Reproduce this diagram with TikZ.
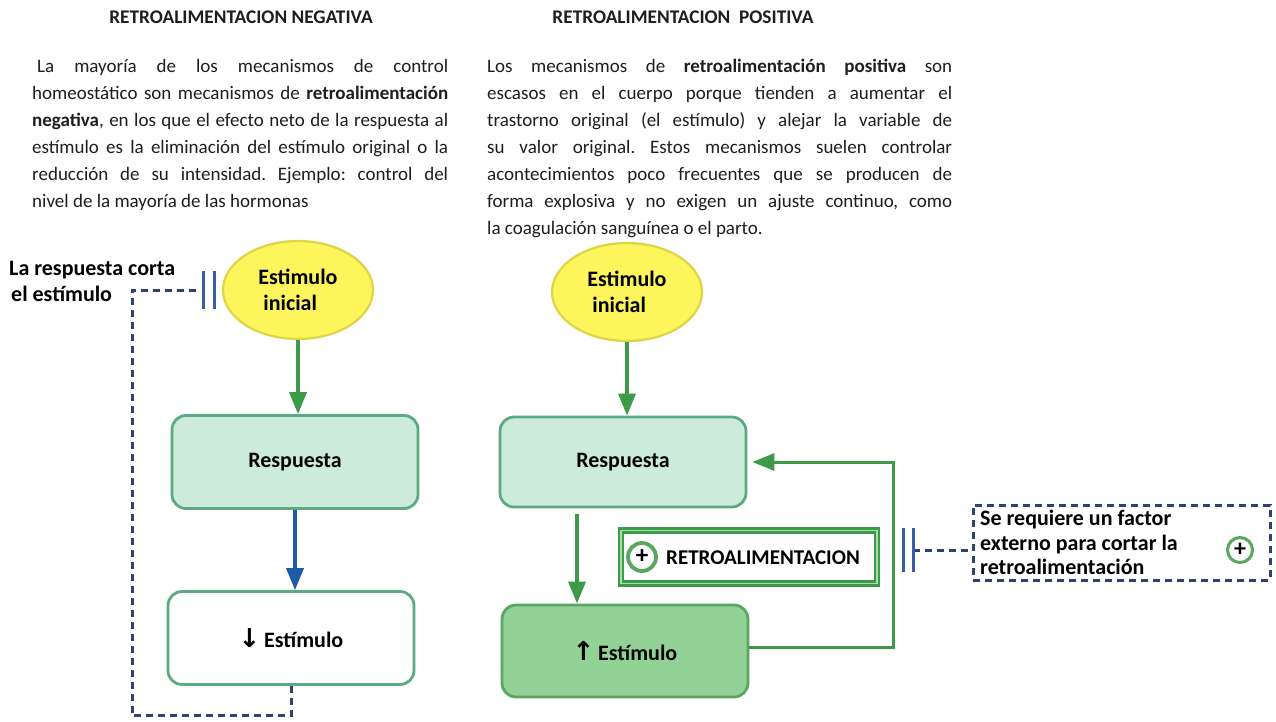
\documentclass[tikz,border=0pt]{standalone}
\usepackage{fontspec}
\setmainfont{Carlito}
\newfontfamily\flechafont{DejaVu Sans}
\usetikzlibrary{arrows.meta, positioning, shapes.geometric}
\frenchspacing

\definecolor{amarillo}{RGB}{252,246,92}
\definecolor{amarilloB}{RGB}{222,212,70}
\definecolor{menta}{RGB}{204,235,218}
\definecolor{mentaB}{RGB}{92,170,130}
\definecolor{verdeS}{RGB}{146,210,150}
\definecolor{verdeSB}{RGB}{90,165,95}
\definecolor{verdeF}{RGB}{60,154,72}
\definecolor{verdeL}{RGB}{170,220,175}
\definecolor{azulF}{RGB}{31,90,168}
\definecolor{marino}{RGB}{46,66,112}
\definecolor{barraA}{RGB}{58,91,165}
\definecolor{texto}{RGB}{30,30,30}

\begin{document}
\begin{tikzpicture}[x=1pt, y=-1pt,
  titulo/.style={font=\fontsize{19.3}{22}\selectfont\bfseries, text=texto},
  parrafo/.style={anchor=north west, inner sep=0pt, align=justify,
    font=\fontsize{19}{27}\selectfont, text=texto},
  etiqueta/.style={font=\fontsize{22}{26}\selectfont\bfseries, text=black},
  estimulo/.style={ellipse, draw=amarilloB, line width=2.2pt, fill=amarillo,
    minimum width=150pt, minimum height=98pt, inner sep=0pt, align=left},
  caja/.style={rounded corners=14pt, draw=mentaB, line width=2.8pt,
    minimum width=246pt, minimum height=93pt},
  flecha/.style={-{Triangle[length=22pt,width=17pt]}, line width=3.5pt, draw=verdeF},
  corte/.style={draw=marino, line width=3pt, dash pattern=on 7pt off 5pt},
  barra/.style={draw=barraA, line width=3pt},
  signo/.style={circle, draw=verdeSB, fill=white, line width=3.8pt, minimum size=28pt,
    inner sep=0pt, font=\fontsize{25}{25}\selectfont\bfseries}]

  \useasboundingbox (0,0) rectangle (1276,721);
  \fill[white] (0,0) rectangle (1276,721);

  % Titles
  \node[titulo] (titN) at (241,17) {RETROALIMENTACION NEGATIVA};
  \node[titulo] (titP) at (683,17) {RETROALIMENTACION~~POSITIVA};

  % Text blocks
  \node[parrafo, text width=416pt] (parN) at (32,59) {\noindent\hspace*{5pt}La mayoría de los mecanismos de control\linebreak
    homeostático son mecanismos de \textbf{retroalimentación}\linebreak
    \textbf{negativa}, en los que el efecto neto de la respuesta al\linebreak
    estímulo es la eliminación del estímulo original o la\linebreak
    reducción de su intensidad. Ejemplo: control del\linebreak
    nivel de la mayoría de las hormonas};
  \node[parrafo, text width=465pt] (parP) at (487,59) {\noindent Los mecanismos de \textbf{retroalimentación positiva} son\linebreak
    escasos en el cuerpo porque tienden a aumentar el\linebreak
    trastorno original (el estímulo) y alejar la variable de\linebreak
    su valor original. Estos mecanismos suelen controlar\linebreak
    acontecimientos poco frecuentes que se producen de\linebreak
    forma explosiva y no exigen un ajuste continuo, como\linebreak
    la coagulación sanguínea o el parto.};

  % Negative loop
  \node[estimulo, etiqueta] (estN) at (298,290) {Estimulo\\\hspace*{5pt}inicial};
  \node[caja, fill=menta, etiqueta] (respN) at (295,462) {Respuesta};
  \node[caja, fill=white, etiqueta] (estimN) at (291,638)
    {{\flechafont\fontsize{26}{26}\selectfont ↓}\,Estímulo};
  \draw[flecha] (estN.south) -- (estN.south |- respN.north);
  \draw[flecha, draw=azulF] (respN.south) -- (respN.south |- estimN.north);

  \node[etiqueta, anchor=west, align=left, inner sep=0pt] (lblN) at (9,281)
    {La respuesta corta\\\hspace*{2pt}el estímulo};
  \coordinate (esqN) at (132,290);
  \coordinate (corteN) at (200,290);
  \draw[corte] (estimN.south) -- ++(0,30) -| (esqN) -- (corteN);
  \draw[barra] (corteN) ++(3,-19) -- ++(0,38) (corteN) ++(14,-19) -- ++(0,38);

  % Positive loop
  \node[estimulo, etiqueta] (estP) at (627,292) {Estimulo\\\hspace*{5pt}inicial};
  \node[caja, fill=menta, etiqueta, minimum height=90pt] (respP) at (623,462) {Respuesta};
  \node[caja, fill=verdeS, draw=verdeSB, etiqueta, minimum height=92pt] (estimP) at (625,651)
    {{\flechafont\fontsize{26}{26}\selectfont ↑}\,Estímulo};
  \draw[flecha] (estP.south) -- (estP.south |- respP.north);
  \draw[flecha, shorten <=6pt] ([xshift=-46pt]respP.south) -- ([xshift=-46pt]respP.south |- estimP.north);
  \coordinate (lazo) at (893,560);
  \draw[flecha, line width=3pt, shorten >=5pt] ([yshift=4pt]estimP.east) -| (lazo) |- (respP.east);

  % Feedback label
  \node[draw=verdeF, double=verdeL, line width=2.3pt, double distance=1.6pt,
    minimum width=256pt, minimum height=53pt] (retro) at (749,557) {};
  \node[signo] (masR) at (642,557) {+};
  \node[etiqueta, anchor=west, inner sep=0pt, font=\fontsize{21}{24}\selectfont\bfseries]
    (txtR) at (666,558) {RETROALIMENTACION};

  % External factor
  \node[corte, minimum width=297pt, minimum height=75pt, inner sep=0pt] (cajaF) at (1121.5,542.5) {};
  \node[etiqueta, anchor=north west, align=left, inner sep=0pt, font=\fontsize{22}{24.5}\selectfont\bfseries]
    (txtF) at (980,510) {Se requiere un factor\\externo para cortar la\\retroalimentación};
  \node[signo, line width=3pt, minimum size=25pt, font=\fontsize{24}{24}\selectfont\bfseries] (masF) at (1240,550) {+};
  \coordinate (corteP) at (913,550);
  \draw[corte] (corteP) -- (corteP -| cajaF.west);
  \draw[barra] (corteP) ++(-10,-22) -- ++(0,44) (corteP) ++(0,-22) -- ++(0,44);

\end{tikzpicture}
\end{document}
